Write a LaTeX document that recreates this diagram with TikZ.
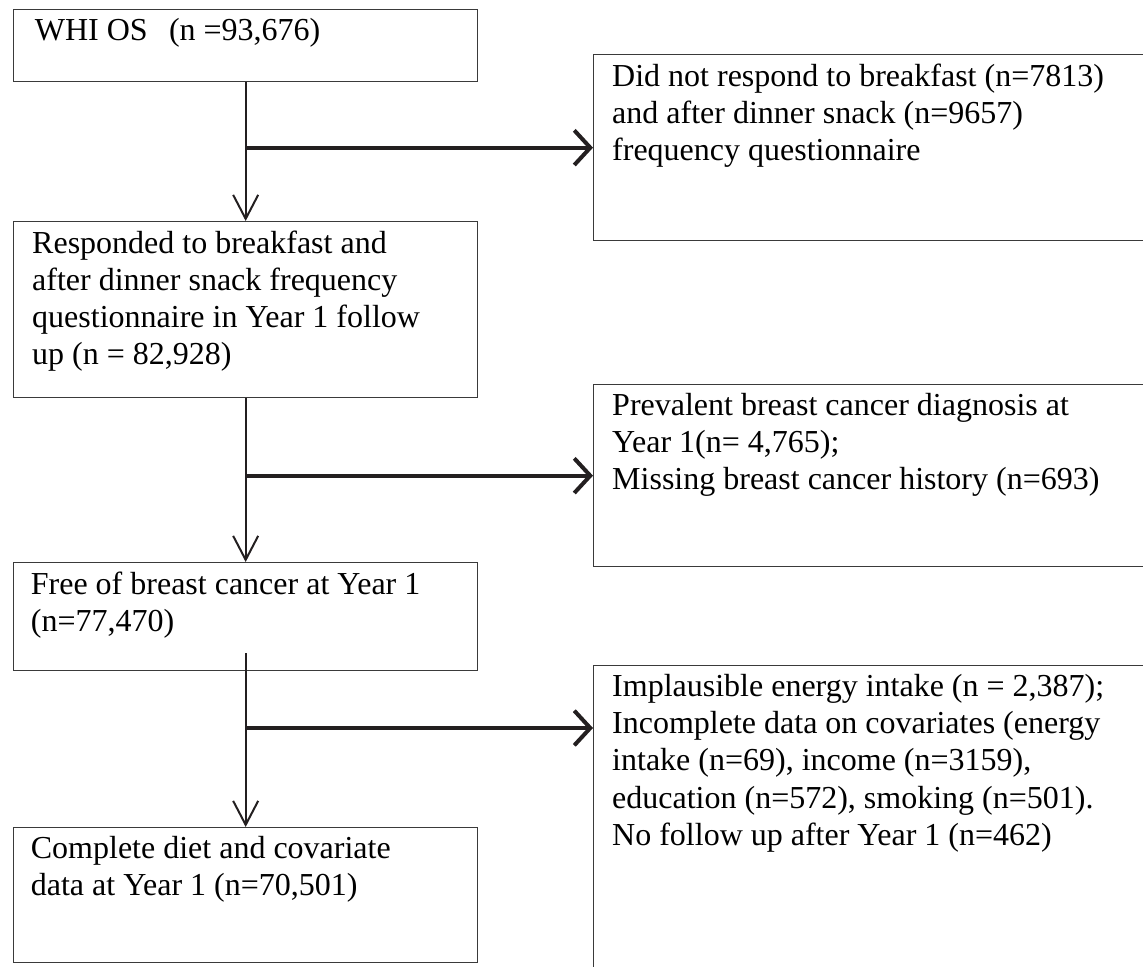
\documentclass[tikz,border=0pt]{standalone}
\usepackage{fontspec}
\setmainfont{Liberation Serif}
\usepackage{xcolor}
\usepackage{tikz}
\usetikzlibrary{arrows.meta, positioning, calc}
\definecolor{ink}{HTML}{231F20}
\definecolor{edge}{HTML}{3A3A3A}

\begin{document}
\begin{tikzpicture}[
    x=0.375pt, y=-0.375pt,
    stage/.style={draw=edge, line width=0.5pt, anchor=north west, minimum width=174pt, inner sep=0pt},
    excl/.style={draw=edge, line width=0.5pt, anchor=north west, minimum width=217pt, inner sep=0pt},
    boxtext/.style={anchor=north west, inner sep=0pt, align=left, font=\fontsize{12}{13.9}\selectfont},
    flow/.style={-{Straight Barb[length=9pt, width=9.4pt]}, line width=0.75pt, color=ink},
    branch/.style={-{Straight Barb[length=6pt, width=13pt]}, line width=1.5pt, color=ink}
]
\useasboundingbox (0,0) rectangle (1143,966);

% Step 1 - WHI OS
\node[stage, minimum height=27pt] (whi) at (13,9) {};
\node[boxtext] (whitxt) at ([xshift=8pt, yshift=-3.4pt]whi.north west) {WHI OS\ \ \,(n =93,676)};

% Exclusion 1 - no response
\node[excl, minimum height=69.75pt] (nobreak) at (593,54) {};
\node[boxtext] (nobreaktxt) at ([xshift=7pt, yshift=-3.4pt]nobreak.north west) {Did not respond to breakfast (n=7813)\\and after dinner snack (n=9657)\\frequency questionnaire};

% Step 2 - responded
\node[stage, minimum height=66pt] (resp) at (13,221) {};
\node[boxtext] (resptxt) at ([xshift=7pt, yshift=-3.4pt]resp.north west) {Responded to breakfast and\\after dinner snack frequency\\questionnaire in Year 1 follow\\up (n = 82,928)};

% Exclusion 2 - prevalent cancer
\node[excl, minimum height=68.25pt] (prev) at (593,384) {};
\node[boxtext] (prevtxt) at ([xshift=7pt, yshift=-3.4pt]prev.north west) {Prevalent breast cancer diagnosis at\\Year 1(n= 4,765);\\Missing breast cancer history (n=693)};

% Step 3 - cancer free
\node[stage, minimum height=40.5pt] (free) at (13,562) {};
\node[boxtext] (freetxt) at ([xshift=6.5pt, yshift=-3.4pt]free.north west) {Free of breast cancer at Year 1\\(n=77,470)};

% Exclusion 3 - implausible / incomplete
\node[excl, minimum height=130pt] (implaus) at (593,665) {};
\node[boxtext] (implaustxt) at ([xshift=7pt, yshift=-3.4pt]implaus.north west) {Implausible energy intake (n = 2,387);\\Incomplete data on covariates (energy\\intake (n=69), income (n=3159),\\education (n=572), smoking (n=501).\\No follow up after Year 1 (n=462)};

% Step 4 - analytic sample
\node[stage, minimum height=50.6pt] (final) at (13,827) {};
\node[boxtext] (finaltxt) at ([xshift=6.5pt, yshift=-3.4pt]final.north west) {Complete diet and covariate\\data at Year 1 (n=70,501)};

% Arrows
\draw[flow] (whi.south) -- (resp.north);
\coordinate (fork1) at (whi.south |- nobreak.west);
\draw[branch] (fork1) -- (nobreak.west);

\draw[flow] (resp.south) -- (free.north);
\coordinate (fork2) at (resp.south |- prev.west);
\draw[branch] (fork2) -- (prev.west);

\coordinate (drop) at ([yshift=6.75pt]free.south);
\draw[flow] (drop) -- (final.north);
\coordinate (fork3) at (drop |- 0,728);
\draw[branch] (fork3) -- (fork3 -| implaus.west);

\end{tikzpicture}
\end{document}
